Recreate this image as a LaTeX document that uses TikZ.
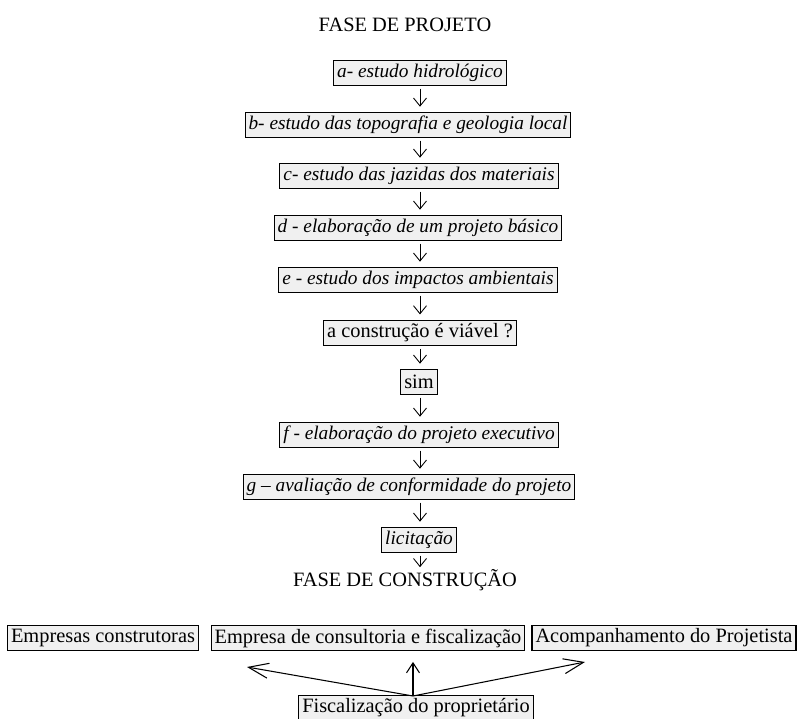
\documentclass[tikz,border=0pt]{standalone}
\usepackage{fontspec}
\setmainfont{Liberation Serif}
\usetikzlibrary{arrows.meta, positioning}

\begin{document}
\begin{tikzpicture}[x=0.02cm, y=-0.02cm,
    stepbox/.style={rectangle, draw, fill=gray!12, line width=0.6pt, inner sep=2pt, minimum height=0.5cm, font=\fontsize{11}{14}\selectfont\itshape},
    plainbox/.style={stepbox, font=\fontsize{11.6}{14}\selectfont},
    flow/.style={-{Straight Barb[length=1.6mm, width=2.6mm]}, line width=0.5pt, shorten <=1.5pt, shorten >=3pt},
    owner/.style={-{Straight Barb[length=4mm, width=3mm]}, line width=0.6pt},
    phase/.style={inner sep=0pt, font=\fontsize{11.6}{14}\selectfont}
]
\useasboundingbox (0,0) rectangle (798,719);

% Fase de projeto
\node[phase] (projeto) at (405, 25) {FASE DE PROJETO};
\node[stepbox] (a) at (420, 73) {a- estudo hidrológico};
\node[stepbox] (b) at (408, 125) {b- estudo das topografia e geologia local};
\node[stepbox] (c) at (419, 176) {c- estudo das jazidas dos materiais};
\node[stepbox] (d) at (418, 228) {d - elaboração de um projeto básico};
\node[stepbox] (e) at (418, 280) {e - estudo dos impactos ambientais};
\node[plainbox] (viavel) at (420, 333) {a construção é viável ?};
\node[plainbox] (sim) at (419, 382) {sim};
\node[stepbox] (f) at (419, 435) {f - elaboração do projeto executivo};
\node[stepbox] (g) at (409, 487) {g – avaliação de conformidade do projeto};
\node[stepbox] (licit) at (419, 540) {licitação};

% Fase de construcao
\node[phase] (construcao) at (405, 580) {FASE DE CONSTRUÇÃO};
\node[plainbox] (empresas) at (103, 638) {Empresas construtoras};
\node[plainbox] (consult) at (368, 638) {Empresa de consultoria e fiscalização};
\node[plainbox] (acomp) at (664, 638) {Acompanhamento do Projetista};
\node[plainbox] (fisc) at (416, 708) {Fiscalização do proprietário};

% eixo das setas
\coordinate (axis) at (420, 0);
\foreach \u/\v in {a/b, b/c, c/d, d/e, e/viavel, viavel/sim, sim/f, f/g, g/licit}
    \draw[flow] (\u.south -| axis) -- (\v.north -| axis);
\draw[flow, shorten >=1pt] (licit.south -| axis) -- (construcao.north -| axis);

\coordinate (root) at (413, 696);
\coordinate (tipL) at (247, 667);
\coordinate (tipR) at (585, 662);
\draw[owner] (root) -- (tipL);
\draw[owner] (root) -- (tipR);
\draw[owner, -{Straight Barb[length=2mm, width=2.6mm]}, shorten >=6pt] (root) -- (consult.south -| root);

\end{tikzpicture}
\end{document}
